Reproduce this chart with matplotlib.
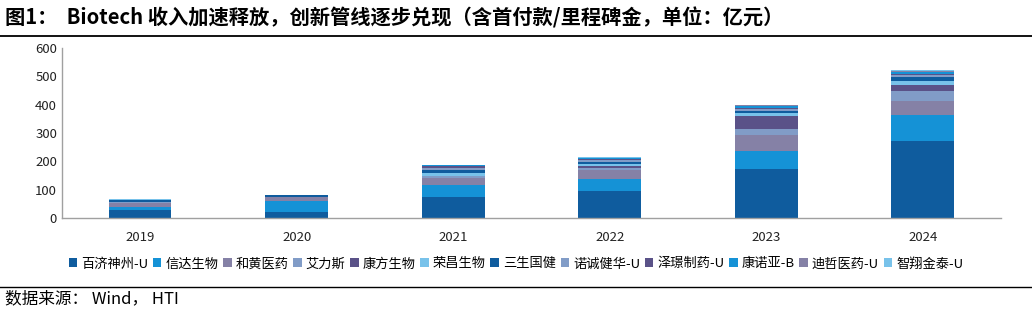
import numpy as np
import matplotlib
matplotlib.use("Agg")
import matplotlib.pyplot as plt
from matplotlib.lines import Line2D

plt.rcParams['font.family'] = ['Noto Sans CJK SC', 'DejaVu Sans']

years = ['2019', '2020', '2021', '2022', '2023', '2024']
companies = ['百济神州-U', '信达生物', '和黄医药', '艾力斯', '康方生物', '荣昌生物',
             '三生国健', '诺诚健华-U', '泽璟制药-U', '康诺亚-B', '迪哲医药-U', '智翔金泰-U']

# values per company, one per year (亿元)
beigene   = [27, 20, 74, 94, 173, 271]
innovent  = [10.6, 38.8, 41, 45, 62, 94]
hutchmed  = [15.5, 14, 26, 32, 59, 47]
allist    = [2, 0.5, 6, 6, 20, 35]
akeso     = [0, 0, 1, 7, 45, 21]
remegen   = [0, 0, 12, 8, 12, 16.5]
sunshine  = [9.4, 7, 9, 6, 8, 12]
innocare  = [0, 0, 9, 6, 6, 7]
zelgen    = [0, 0, 5, 3.5, 4.7, 6]
keymed    = [0, 0, 3, 3.5, 4.7, 6]
dizal     = [0, 0, 0, 2, 3.5, 3.5]
genrix    = [2, 1, 1, 1, 2, 5]

series = [beigene, innovent, hutchmed, allist, akeso, remegen,
          sunshine, innocare, zelgen, keymed, dizal, genrix]

colors = ['#0F5C9E', '#1592D6', '#8581A6', '#819CC7', '#5A5288', '#78C2EA',
          '#0F5C9E', '#819CC7', '#5A5288', '#1592D6', '#8581A6', '#78C2EA']

fig = plt.figure(figsize=(10.32, 3.12), dpi=100)
ax = fig.add_axes([0.060, 0.301, 0.910, 0.545])

x = np.arange(len(years))
bottom = np.zeros(len(years))
for name, vals, c in zip(companies, series, colors):
    vals = np.array(vals, dtype=float)
    ax.bar(x, vals, 0.4, bottom=bottom, color=c, label=name, linewidth=0)
    bottom += vals

ax.set_xlim(-0.5, len(years) - 0.5)
ax.set_ylim(0, 600)
ax.set_yticks(range(0, 601, 100))
ax.set_xticks(x)
ax.set_xticklabels(years)
ax.tick_params(axis='both', length=0, labelsize=9.5, colors='#222222')
ax.tick_params(axis='x', pad=9)
for s in ['top', 'right']:
    ax.spines[s].set_visible(False)
for s in ['left', 'bottom']:
    ax.spines[s].set_color('#A0A0A0')
    ax.spines[s].set_linewidth(1)

handles, labels = ax.get_legend_handles_labels()
fig.legend(handles, labels, loc='center', bbox_to_anchor=(0.5, 0.154), ncol=12,
           frameon=False, fontsize=9.5, handlelength=0.65, handleheight=0.65,
           handletextpad=0.3, columnspacing=0.35, borderpad=0)

fig.text(0.005, 0.943, '图1：  Biotech 收入加速释放，创新管线逐步兑现（含首付款/里程碑金，单位：亿元）',
         fontsize=14.6, fontweight='bold', va='center', ha='left')
fig.add_artist(Line2D([0, 1], [0.885, 0.885], transform=fig.transFigure, color='black', linewidth=1.3))
fig.add_artist(Line2D([0, 1], [0.080, 0.080], transform=fig.transFigure, color='black', linewidth=1.0))
fig.text(0.005, 0.043, '数据来源： Wind， HTI', fontsize=12, va='center', ha='left')

fig.savefig('out.png', dpi=100)
